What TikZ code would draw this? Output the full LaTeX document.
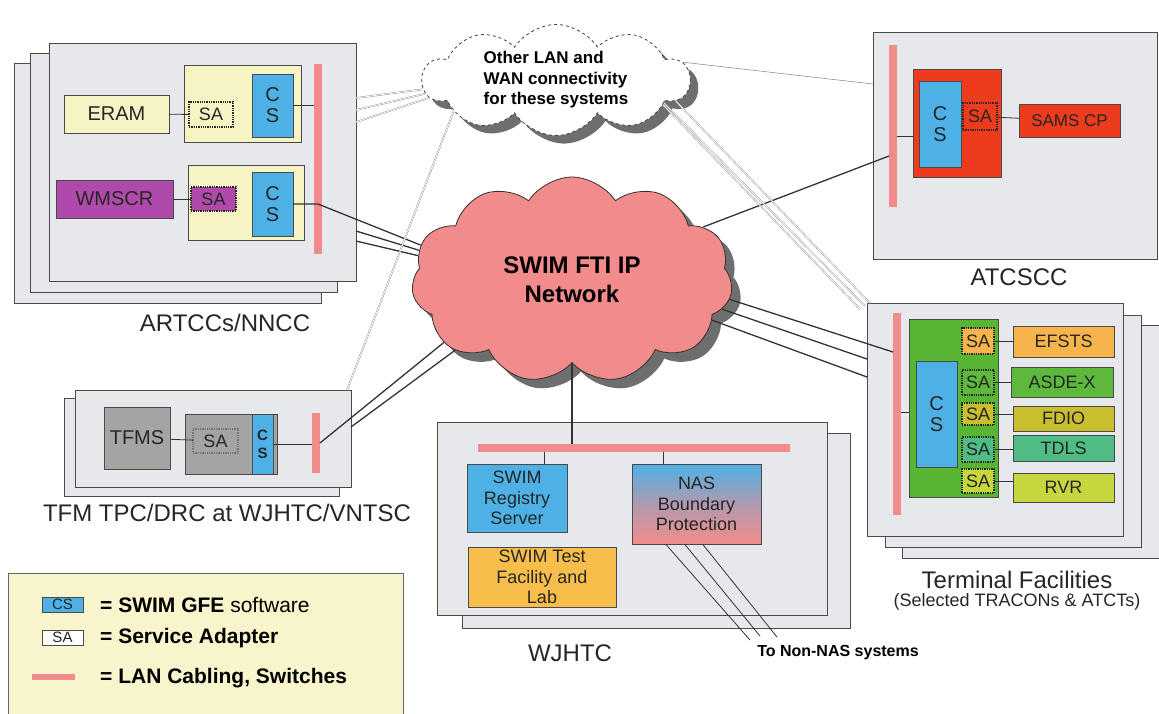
\documentclass[tikz,border=0pt]{standalone}
\usepackage{fontspec}
\setmainfont{Liberation Sans}
\usetikzlibrary{shapes.symbols,shadows}

\definecolor{boxgray}{HTML}{E7E8EB}
\definecolor{rimgray}{HTML}{4A4A4A}
\definecolor{paleyellow}{HTML}{F6F3C4}
\definecolor{csblue}{HTML}{4DB1E6}
\definecolor{lanpink}{HTML}{F28B8B}
\definecolor{wmscrpurple}{HTML}{B04AAA}
\definecolor{atcred}{HTML}{EE3B1E}
\definecolor{termgreen}{HTML}{58B532}
\definecolor{efstsorange}{HTML}{F7B44C}
\definecolor{asdegreen}{HTML}{5DB83C}
\definecolor{fdioolive}{HTML}{C9BE2E}
\definecolor{tdlsteal}{HTML}{4EBC84}
\definecolor{rvrlime}{HTML}{C8D63E}
\definecolor{testorange}{HTML}{F8BE4C}
\definecolor{tfmgray}{HTML}{A4A4A4}
\definecolor{legendyellow}{HTML}{F8F5CC}
\definecolor{shade}{HTML}{6E6E6E}

\newcommand{\fcap}{\fontsize{24}{28}\selectfont}
\newcommand{\fsub}{\fontsize{18}{21}\selectfont}
\newcommand{\ftxt}{\fontsize{18}{20.5}\selectfont}
\newcommand{\fname}{\fontsize{20}{21}\selectfont}
\newcommand{\fcloud}{\fontsize{24}{29}\selectfont\bfseries}
\newcommand{\fother}{\fontsize{17}{20.5}\selectfont\bfseries}
\newcommand{\flegend}{\fontsize{21}{24}\selectfont}
\newcommand{\fkey}{\fontsize{15}{16}\selectfont}
\newcommand{\fsmall}{\fontsize{15}{18}\selectfont\bfseries}

\begin{document}
\begin{tikzpicture}[x=1pt,y=-1pt,
  blk/.style={draw=rimgray,line width=0.9pt,inner sep=0pt,outer sep=0pt,
    align=center,text=black!85,font=\ftxt},
  site/.style={blk,fill=boxgray},
  lan/.style={blk,draw=none,fill=lanpink},
  cs/.style={blk,fill=csblue,font=\fname},
  sa/.style={blk,draw=black!85,line width=1.3pt,densely dotted},
  wire/.style={draw=black!80,line width=1.3pt},
  tap/.style={draw=black!80,line width=0.8pt},
  faint/.style={draw=black!45,line width=0.4pt,double=white,double distance=0.8pt},
  caption/.style={inner sep=0pt,text=black!85,font=\fcap}]

\clip (0,0) rectangle (1159,713);

\newcommand{\blk}[7][]{% [style]{name}{x1}{y1}{x2}{y2}{text}
 \node[blk,#1,minimum width={#5-#3},minimum height={#6-#4}]
   (#2) at ({(#3+#5)/2},{(#4+#6)/2}) {#7};}

% ARTCCs/NNCC
\blk[site]{artccC}{14}{63}{321}{303}{}
\blk[site]{artccB}{30}{53}{337}{292}{}
\blk[site]{artccA}{49}{43}{356}{281}{}
\blk[lan]{barA}{314}{64}{322}{254}{}
\blk[fill=paleyellow]{hostA}{184}{65}{301}{142}{}
\blk[cs]{csA}{252}{74}{293}{137}{C\\S}
\blk[sa,fill=paleyellow]{saA}{189}{102}{233}{127}{SA}
\blk[fill=paleyellow,font=\fname]{eram}{64}{95}{169}{133}{ERAM}
\blk[fill=paleyellow]{hostB}{188}{165}{304}{240}{}
\blk[cs]{csB}{252}{172}{293}{236}{C\\S}
\blk[sa,fill=wmscrpurple]{saB}{191}{187}{236}{211}{SA}
\blk[fill=wmscrpurple,font=\fname]{wmscr}{56}{180}{173}{218}{WMSCR}
\node[caption] (artccCap) at (225,323) {ARTCCs/NNCC};
\draw[tap] (eram) -- (saA);
\draw[tap] (wmscr) -- (saB);
\draw[tap] (csA.east) -- (csA.east -| barA.west);

% ATCSCC
\blk[site]{atc}{873}{32}{1157}{259}{}
\blk[lan]{barC}{889}{45}{897}{207}{}
\blk[fill=atcred]{hostC}{913}{69}{1001}{177}{}
\blk[cs]{csC}{919}{81}{961}{167}{C\\S}
\blk[sa,fill=atcred]{saC}{963}{103}{997}{130}{SA}
\blk[fill=atcred,font=\fontsize{17}{20}\selectfont]{sams}{1019}{104}{1120}{137}{SAMS CP}
\node[caption] (atcCap) at (1019,277) {ATCSCC};
\draw[tap] (saC) -- (sams);
\draw[tap] ([yshift=-13pt]hostC.west) -- ([yshift=-13pt]hostC.west -| barC.east);

% Terminal facilities
\blk[site]{termC}{902}{325}{1175}{558}{}
\blk[site]{termB}{885}{315}{1141}{547}{}
\blk[site]{termA}{867}{303}{1123}{536}{}
\blk[lan]{barT}{893}{313}{901}{515}{}
\blk[fill=termgreen]{hostT}{909}{319}{998}{497}{}
\blk[cs]{csT}{916}{361}{957}{467}{C\\S}
\blk[sa,fill=efstsorange]{saT1}{962}{328}{994}{354}{SA}
\blk[sa,fill=asdegreen]{saT2}{962}{370}{994}{395}{SA}
\blk[sa,fill=fdioolive]{saT3}{962}{403}{994}{425}{SA}
\blk[sa,fill=tdlsteal]{saT4}{962}{437}{994}{462}{SA}
\blk[sa,fill=rvrlime]{saT5}{962}{469}{994}{493}{SA}
\blk[fill=efstsorange]{efsts}{1013}{326}{1114}{357}{EFSTS}
\blk[fill=asdegreen]{asdex}{1011}{367}{1113}{397}{ASDE-X}
\blk[fill=fdioolive]{fdio}{1013}{406}{1114}{431}{FDIO}
\blk[fill=tdlsteal]{tdls}{1013}{435}{1114}{461}{TDLS}
\blk[fill=rvrlime]{rvr}{1013}{473}{1114}{502}{RVR}
\foreach \s/\t in {saT1/efsts,saT2/asdex,saT3/fdio,saT4/tdls,saT5/rvr}
  \draw[tap] (\s.east) -- (\s.east -| \t.west);
\draw[tap] ([yshift=-4pt]hostT.west) -- ([yshift=-4pt]hostT.west -| barT.east);
\node[caption] (termCap) at (1017,580) {Terminal Facilities};
\node[caption,font=\fsub] (termSub) at (1017,602) {(Selected TRACONs \& ATCTs)};

% TFM TPC/DRC
\blk[site]{tfmB}{64}{398}{339}{496}{}
\blk[site]{tfmA}{75}{390}{351}{487}{}
\blk[lan]{barF}{312}{413}{320}{473}{}
\blk[fill=tfmgray,font=\fname]{tfms}{104}{407}{170}{469}{TFMS}
\blk[fill=tfmgray]{hostF}{185}{414}{277}{474}{}
\blk[sa,fill=tfmgray,draw=black!55]{saF}{193}{429}{238}{453}{SA}
\blk[cs,font=\fsmall]{csF}{252}{414}{273}{474}{C\\S}
\node[caption] (tfmCap) at (227,513) {TFM TPC/DRC at WJHTC/VNTSC};
\draw[tap] (tfms) -- (saF);
\draw[tap] (csF.east) -- (csF.east -| barF.west);

% WJHTC
\blk[site]{wjB}{462}{433}{850}{628}{}
\blk[site]{wjA}{437}{422}{827}{615}{}
\blk[lan]{barW}{478}{444}{790}{452}{}
\blk[fill=csblue]{registry}{467}{464}{567}{532}{SWIM\\Registry\\Server}
\blk[top color=csblue,bottom color=lanpink,middle color=lanpink!60!csblue]{nas}{632}{464}{761}{544}{NAS\\Boundary\\Protection}
\blk[fill=testorange]{testlab}{468}{547}{616}{607}{SWIM Test\\Facility and\\Lab}
\node[caption] (wjCap) at (570,653) {WJHTC};
\draw[tap] ([xshift=27pt]registry.north) -- ([xshift=27pt]registry.north |- barW.south);
\draw[tap] ([xshift=-33pt]nas.north) -- ([xshift=-33pt]nas.north |- barW.south);
\coordinate (nonNas1) at (750,640);
\coordinate (nonNas2) at (760,636);
\coordinate (nonNas3) at (777,637);
\draw[tap] ([xshift=-31pt]nas.south) -- (nonNas1);
\draw[tap] ([xshift=-12pt]nas.south) -- (nonNas2);
\draw[tap] ([xshift=6pt]nas.south) -- (nonNas3);
\node[inner sep=0pt,font=\fontsize{16}{18}\selectfont\bfseries] (nonNasCap) at (838,653) {To Non-NAS systems};

% clouds
\node[cloud,cloud puffs=11,cloud puff arc=115,cloud ignores aspect,
  draw=black!80,line width=0.8pt,fill=lanpink,
  drop shadow={shadow xshift=9pt,shadow yshift=-9pt,fill=shade,opacity=1},
  minimum width=321pt,minimum height=206pt,inner sep=0pt,align=center,
  font=\fcloud] (swim) at (572,280) {SWIM FTI IP\\Network};
\node[cloud,cloud puffs=10,cloud puff arc=115,cloud ignores aspect,
  draw=black!75,dashed,line width=0.8pt,fill=white,
  drop shadow={shadow xshift=8pt,shadow yshift=-8pt,fill=shade,opacity=1},
  minimum width=267pt,minimum height=106pt,inner sep=0pt,align=left,
  font=\fother] (other) at (556,80) {Other LAN and\\WAN connectivity\\for these systems};

% links to SWIM FTI
\coordinate (artccL2) at (356,231);
\coordinate (artccL3) at (356,241);
\draw[wire] (csB.east) -- (csB.east -| barA.center) -- (swim.167);
\draw[wire] (artccL2) -- (swim.169);
\draw[wire] (artccL3) -- (swim.171);
\coordinate (tfmL2) at (351,427);
\draw[wire] (barF.east) -- (swim.206);
\draw[wire] (tfmL2) -- (swim.211);
\draw[wire] (swim.270) -- (swim.270 |- barW.north);
\coordinate (atcL1) at (889,156);
\draw[wire] (swim.22) -- (atcL1);
\coordinate (termL1) at (893,352);
\coordinate (termL2) at (867,359);
\coordinate (termL3) at (867,377);
\draw[wire] (swim.-7) -- (termL1);
\draw[wire] (swim.-11) -- (termL2);
\draw[wire] (swim.-16) -- (termL3);

% links to other LAN/WAN
\coordinate (artccO1) at (356,98);
\coordinate (artccO2) at (356,110);
\coordinate (artccO3) at (356,122);
\foreach \c/\a in {artccO1/184,artccO2/186,artccO3/188}
  \draw[faint] (\c) -- (other.\a);
\coordinate (tfmO) at (347,390);
\draw[faint] (other.197) -- (tfmO);
\coordinate (atcO) at (873,84);
\draw[draw=black!50,line width=0.5pt] (other.8) -- (atcO);
\coordinate (termO1) at (860,309);
\coordinate (termO2) at (865,306);
\coordinate (termO3) at (870,303);
\draw[faint] (other.-13) -- (termO1);
\draw[faint] (other.-12) -- (termO2);
\draw[faint] (other.-10.5) -- (termO3);

% legend
\blk[fill=legendyellow,draw=black!60]{legend}{8}{573}{403}{725}{}
\blk[cs,font=\fkey]{keyCS}{42}{597}{83}{612}{CS}
\blk[fill=white,font=\fkey]{keySA}{42}{630}{83}{645}{SA}
\blk[lan]{keyLAN}{32}{674}{75}{680}{}
\node[anchor=west,inner sep=0pt,font=\flegend] (keyCStext) at (100,605) {\textbf{= SWIM GFE} software};
\node[anchor=west,inner sep=0pt,font=\flegend\bfseries] (keySAtext) at (100,638) {= Service Adapter};
\node[anchor=west,inner sep=0pt,font=\flegend\bfseries] (keyLANtext) at (100,678) {= LAN Cabling, Switches};

\end{tikzpicture}
\end{document}
